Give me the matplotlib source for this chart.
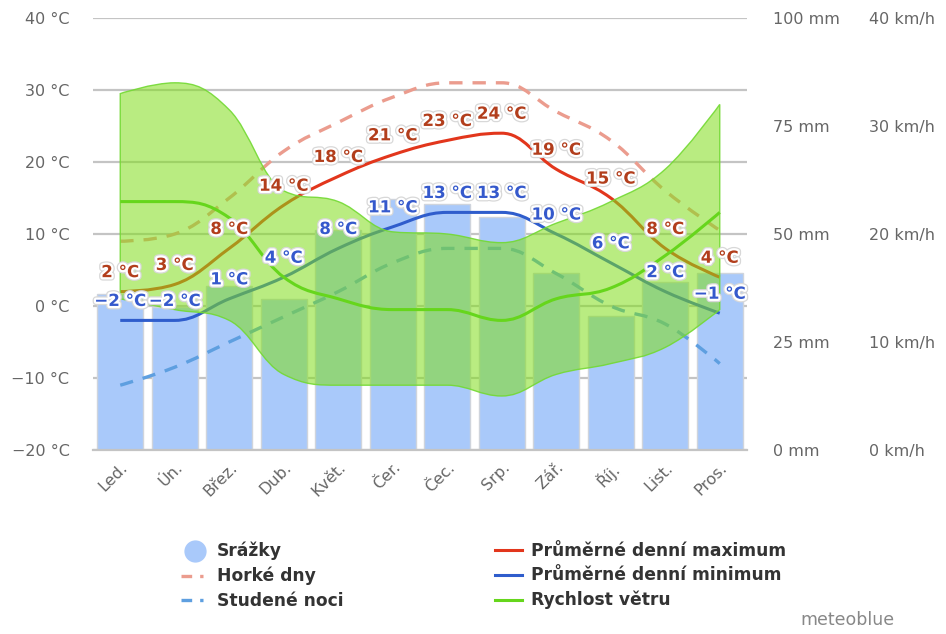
import matplotlib
matplotlib.use('Agg')
import matplotlib.pyplot as plt
import matplotlib.patheffects as pe
from matplotlib.lines import Line2D
from matplotlib.path import Path
from matplotlib.patches import PathPatch
from matplotlib.ticker import FuncFormatter

months = ['Led.', 'Ún.', 'Břez.', 'Dub.', 'Květ.', 'Čer.', 'Čec.', 'Srp.', 'Zář.', 'Říj.', 'List.', 'Pros.']
precip_mm = [36, 33, 38, 35, 51, 58, 57, 54, 41, 31, 39, 41]
temp_max = [2, 3, 8, 14, 18, 21, 23, 24, 19, 15, 8, 4]
temp_min = [-2, -2, 1, 4, 8, 11, 13, 13, 10, 6, 2, -1]
hot_days = [9, 10, 15, 21.5, 25.5, 29, 31, 31, 27, 23, 16, 10.5]
cold_nights = [-11, -8.5, -5, -1.5, 2, 6, 8, 8, 4.5, 0, -2.5, -8]
wind_mean = [23, 23, 21.5, 16, 14, 13, 13, 12, 14, 15, 18, 22]
wind_high = [33, 34, 31.5, 24, 23, 20.2, 20, 19.2, 21, 23, 26, 32]
wind_low = [14, 13, 12, 7, 6, 6, 6, 5, 7, 8, 9.5, 13]

temp_ticks = [-20, -10, 0, 10, 20, 30, 40]
precip_ticks = [0, 25, 50, 75, 100]
wind_ticks = [0, 10, 20, 30, 40]

GRAY = '#666666'
RAIN = '#a9c9fa'
RED = '#e2361c'
BLUE = '#2f5dcc'
HOT = '#eb9c8e'
COLD = '#5e9fe0'
GREEN = '#66d61c'
DASH = (0, (4, 3))


def spline(xs, ys, smoothing=1.5):
    # cubic bezier control points, same scheme as a Highcharts spline
    n = len(xs)
    left = [(xs[i], ys[i]) for i in range(n)]
    right = [(xs[i], ys[i]) for i in range(n)]
    denom = smoothing + 1
    for i in range(1, n - 1):
        x, y = xs[i], ys[i]
        lx, ly = xs[i - 1], ys[i - 1]
        nx, ny = xs[i + 1], ys[i + 1]
        lcx = (smoothing * x + lx) / denom
        lcy = (smoothing * y + ly) / denom
        rcx = (smoothing * x + nx) / denom
        rcy = (smoothing * y + ny) / denom
        corr = ((rcy - lcy) * (rcx - x)) / (rcx - lcx) + y - rcy
        lcy += corr
        rcy += corr
        if lcy > ly and lcy > y:
            lcy = max(ly, y)
            rcy = 2 * y - lcy
        elif lcy < ly and lcy < y:
            lcy = min(ly, y)
            rcy = 2 * y - lcy
        if rcy > ny and rcy > y:
            rcy = max(ny, y)
            lcy = 2 * y - rcy
        elif rcy < ny and rcy < y:
            rcy = min(ny, y)
            lcy = 2 * y - rcy
        left[i] = (lcx, lcy)
        right[i] = (rcx, rcy)
    verts = [(xs[0], ys[0])]
    for i in range(1, n):
        verts += [right[i - 1], left[i], (xs[i], ys[i])]
    return verts


def curve_patch(xs, ys, **kw):
    verts = spline(xs, ys)
    codes = [Path.MOVETO] + [Path.CURVE4] * (len(verts) - 1)
    return PathPatch(Path(verts, codes), fill=False, capstyle='butt', **kw)


def band_patch(xs, lo, hi, **kw):
    top = spline(xs, hi)
    bottom = spline(xs, lo)[::-1]
    verts = top + bottom + [top[0]]
    codes = ([Path.MOVETO] + [Path.CURVE4] * (len(top) - 1) +
             [Path.LINETO] + [Path.CURVE4] * (len(bottom) - 1) + [Path.CLOSEPOLY])
    return PathPatch(Path(verts, codes), **kw)


plt.rcParams['font.family'] = ['DejaVu Sans']
W, H = 946, 634
fig = plt.figure(figsize=(W / 100, H / 100), dpi=100)
rect = [93 / W, (H - 450) / H, (747 - 93) / W, (450 - 18) / H]

# stacked axes: grid, bars, temperatures, wind band, labels
ax_grid = fig.add_axes(rect)
ax_rain = fig.add_axes(rect, sharex=ax_grid)
ax_temp = fig.add_axes(rect, sharex=ax_grid, sharey=ax_grid)
ax_wind = fig.add_axes(rect, sharex=ax_grid)
ax_lab = fig.add_axes(rect, sharex=ax_grid, sharey=ax_grid)

x = list(range(len(months)))

for z, ax in enumerate((ax_grid, ax_rain, ax_temp, ax_wind, ax_lab)):
    ax.set_zorder(z)
    for s in ax.spines.values():
        s.set_visible(False)
    if ax is not ax_grid:
        ax.patch.set_visible(False)
        ax.xaxis.set_visible(False)

ax_grid.set_xlim(-0.5, len(months) - 0.5)
ax_grid.set_ylim(-20, 40)
ax_rain.set_ylim(0, 100)
ax_wind.set_ylim(0, 40)

# temperature axis and grid
ax_grid.set_yticks(temp_ticks)
ax_grid.yaxis.set_major_formatter(FuncFormatter(lambda v, p: f'{v:.0f} °C'.replace('-', '−')))
ax_grid.grid(axis='y', color='#c4c4c4', linewidth=1.6)
ax_grid.tick_params(axis='y', length=0, pad=17, labelsize=11.5, labelcolor=GRAY)
ax_grid.set_xticks(x)
ax_grid.set_xticklabels(months, rotation=45, ha='right', va='top', rotation_mode='anchor')
ax_grid.tick_params(axis='x', length=0, pad=7, labelsize=11.5, labelcolor=GRAY)

# precipitation bars
ax_rain.bar(x, precip_mm, width=0.84, color=RAIN, edgecolor='#cfd4dc', linewidth=1)
ax_rain.yaxis.tick_right()
ax_rain.set_yticks(precip_ticks)
ax_rain.set_yticklabels([f'{v} mm' for v in precip_ticks])
ax_rain.tick_params(axis='y', length=0, pad=19, labelsize=11.5, labelcolor=GRAY)

# temperature curves
ax_temp.yaxis.set_visible(False)
ax_temp.add_patch(curve_patch(x, hot_days, edgecolor=HOT, linewidth=2.4, linestyle=DASH))
ax_temp.add_patch(curve_patch(x, cold_nights, edgecolor=COLD, linewidth=2.4, linestyle=DASH))
ax_temp.add_patch(curve_patch(x, temp_max, edgecolor=RED, linewidth=2.2))
ax_temp.add_patch(curve_patch(x, temp_min, edgecolor=BLUE, linewidth=2.2))

# wind speed range and mean
ax_wind.add_patch(band_patch(x, wind_low, wind_high, facecolor=(0.5, 0.87, 0.1, 0.55),
                             edgecolor=(0.45, 0.85, 0.2, 0.9), linewidth=1))
ax_wind.add_patch(curve_patch(x, wind_mean, edgecolor=GREEN, linewidth=2.2))
ax_wind.yaxis.tick_right()
ax_wind.set_yticks(wind_ticks)
ax_wind.set_yticklabels([f'{v} km/h' for v in wind_ticks])
ax_wind.tick_params(axis='y', length=0, pad=88, labelsize=11.5, labelcolor=GRAY)

# value labels
ax_lab.yaxis.set_visible(False)
ax_lab.spines['bottom'].set_visible(True)
ax_lab.spines['bottom'].set_color('#c4c4c4')
ax_lab.spines['bottom'].set_linewidth(1.6)
halo = [pe.withStroke(linewidth=5, foreground='#d8d8d8'), pe.withStroke(linewidth=3.2, foreground='white')]
for vals, col in ((temp_max, '#b23e1c'), (temp_min, '#3559cc')):
    for i, v in enumerate(vals):
        ax_lab.annotate(f'{v} °C'.replace('-', '−'), (i, v), xytext=(0, 14), textcoords='offset points',
                        ha='center', va='center', fontsize=12, fontweight='bold', color=col,
                        path_effects=halo)

# legend
leg_kw = dict(frameon=False, fontsize=12.3, handletextpad=0.5, labelspacing=0.38,
              borderaxespad=0, borderpad=0, handlelength=1.6, loc='upper left')
dash_dot = (0, (3.2, 2.4, 1, 10))
h1 = [Line2D([], [], marker='o', markersize=15, linestyle='none', color=RAIN, markeredgecolor=RAIN),
      Line2D([], [], color=HOT, linewidth=2.4, linestyle=dash_dot),
      Line2D([], [], color=COLD, linewidth=2.4, linestyle=dash_dot)]
leg1 = fig.legend(h1, ['Srážky', 'Horké dny', 'Studené noci'],
                  bbox_to_anchor=(181 / W, (H - 542) / H), **leg_kw)
h2 = [Line2D([], [], color=RED, linewidth=2.2),
      Line2D([], [], color=BLUE, linewidth=2.2),
      Line2D([], [], color=GREEN, linewidth=2.2)]
leg2 = fig.legend(h2, ['Průměrné denní maximum', 'Průměrné denní minimum', 'Rychlost větru'],
                  bbox_to_anchor=(495 / W, (H - 542) / H), **leg_kw)
for leg in (leg1, leg2):
    for t in leg.get_texts():
        t.set_fontweight('bold')
        t.set_color('#333333')

fig.text(895 / W, (H - 620) / H, 'meteoblue', ha='right', va='center', fontsize=12.5, color='#888888')

fig.savefig('out.png', dpi=100)
